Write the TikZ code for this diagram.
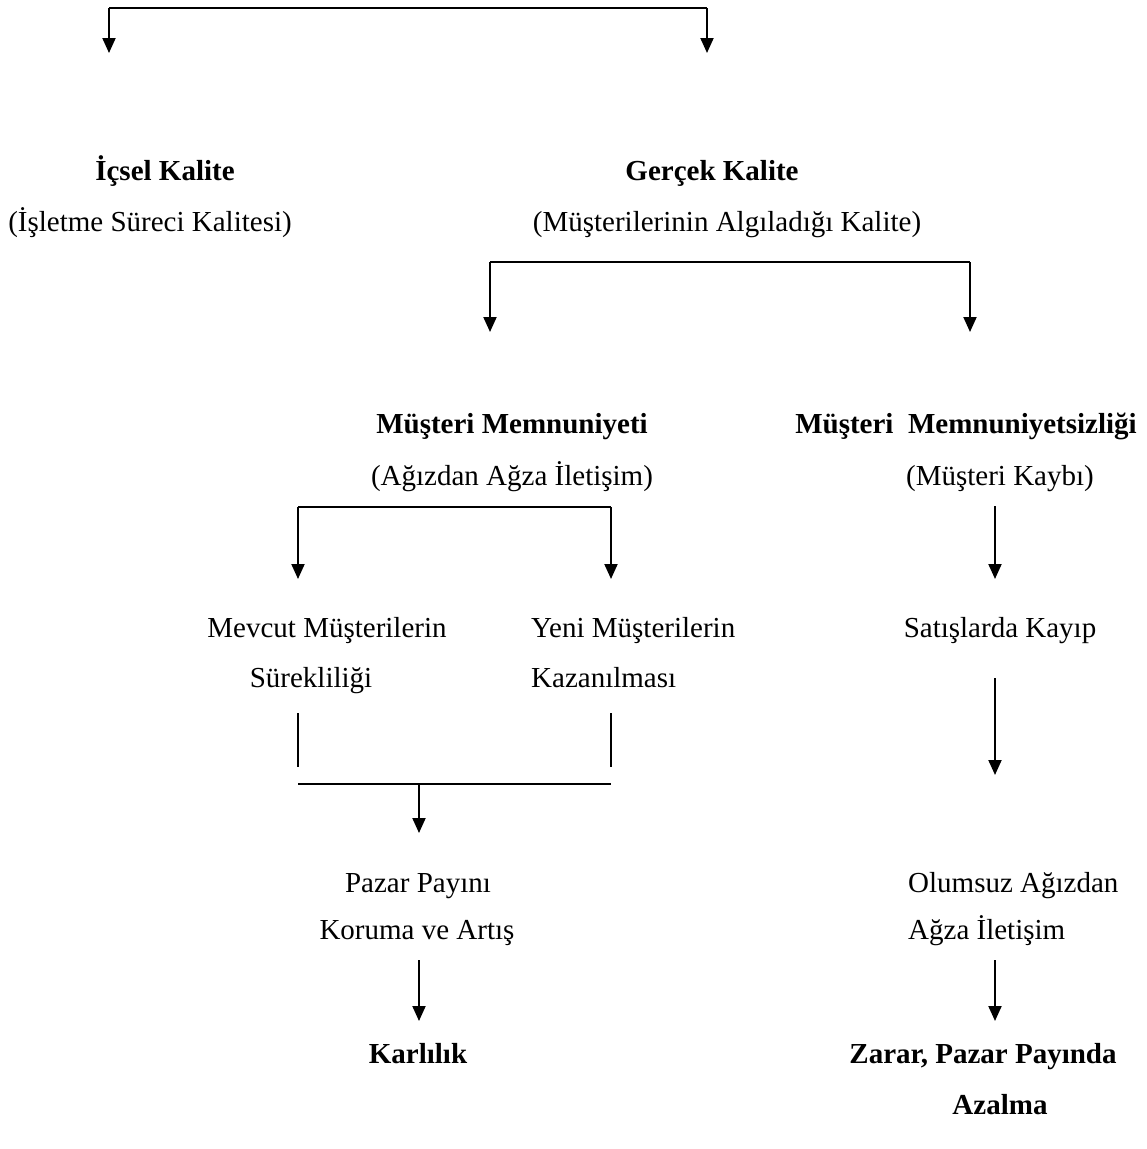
\documentclass[tikz,border=0pt]{standalone}
\usepackage{fontspec}
\setmainfont{Liberation Serif}
\usetikzlibrary{arrows.meta}
\begin{document}
\begin{tikzpicture}[x=1pt,y=-1pt,
  ln/.style={line width=2pt},
  arr/.style={line width=2pt,-{Triangle[width=13pt,length=15pt]}},
  txt/.style={anchor=base,inner sep=0pt,font=\fontsize{29}{34}\selectfont},
  btxt/.style={txt,font=\fontsize{29}{34}\selectfont\bfseries}]
\useasboundingbox (0,0) rectangle (1147,1149);
% texts
\node[btxt] (ick) at (165,180) {İçsel Kalite};
\node[txt] (ick2) at (150,231) {(İşletme Süreci Kalitesi)};
\node[btxt] (gk) at (712,180) {Gerçek Kalite};
\node[txt] (gk2) at (727,231) {(Müşterilerinin Algıladığı Kalite)};
\node[btxt] (mm) at (512,433) {Müşteri Memnuniyeti};
\node[txt] (mm2) at (512,485) {(Ağızdan Ağza İletişim)};
\node[btxt] (mmz) at (966,433) {Müşteri \ Memnuniyetsizliği};
\node[txt] (mmz2) at (1000,485) {(Müşteri Kaybı)};
\node[txt] (mev) at (327,637) {Mevcut Müşterilerin};
\node[txt] (mev2) at (311,687) {Sürekliliği};
\node[txt,anchor=base west] (yeni) at (531,637) {Yeni Müşterilerin};
\node[txt,anchor=base west] (yeni2) at (531,687) {Kazanılması};
\node[txt] (sat) at (1000,637) {Satışlarda Kayıp};
\node[txt] (paz) at (418,892) {Pazar Payını};
\node[txt] (paz2) at (417,939) {Koruma ve Artış};
\node[txt,anchor=base west] (olu) at (908,892) {Olumsuz Ağızdan};
\node[txt,anchor=base west] (olu2) at (908,939) {Ağza İletişim};
\node[btxt] (kar) at (418,1063) {Karlılık};
\node[btxt] (zar) at (983,1063) {Zarar, Pazar Payında};
\node[btxt] (zar2) at (1000,1114) {Azalma};
% coordinates
\coordinate (t1) at (109,53);
\coordinate (t2) at (707,53);
\coordinate (s1) at (490,332);
\coordinate (s2) at (970,332);
\coordinate (u1) at (298,579);
\coordinate (u2) at (611,579);
\coordinate (r0) at (995,506);
\coordinate (r1) at (995,579);
\coordinate (r2) at (995,678);
\coordinate (r3) at (995,775);
\coordinate (v1a) at (298,713);
\coordinate (v1b) at (298,767);
\coordinate (v2a) at (611,713);
\coordinate (v2b) at (611,767);
\coordinate (h1) at (298,784);
\coordinate (h2) at (611,784);
\coordinate (hm) at (419,784);
\coordinate (pz) at (419,833);
\coordinate (k0) at (419,960);
\coordinate (k1) at (419,1021);
\coordinate (z0) at (995,960);
\coordinate (z1) at (995,1021);
% connectors
\draw[arr] (t1 |- 0,8) -- (t1);
\draw[ln] (109,8) -- (707,8);
\draw[arr] (t2 |- 0,8) -- (t2);
\draw[ln] (490,262) -- (970,262);
\draw[arr] (s1 |- 0,262) -- (s1);
\draw[arr] (s2 |- 0,262) -- (s2);
\draw[ln] (298,507) -- (611,507);
\draw[arr] (u1 |- 0,507) -- (u1);
\draw[arr] (u2 |- 0,507) -- (u2);
\draw[arr] (r0) -- (r1);
\draw[arr] (r2) -- (r3);
\draw[ln] (v1a) -- (v1b);
\draw[ln] (v2a) -- (v2b);
\draw[ln] (h1) -- (h2);
\draw[arr] (hm) -- (pz);
\draw[arr] (k0) -- (k1);
\draw[arr] (z0) -- (z1);
\end{tikzpicture}
\end{document}
